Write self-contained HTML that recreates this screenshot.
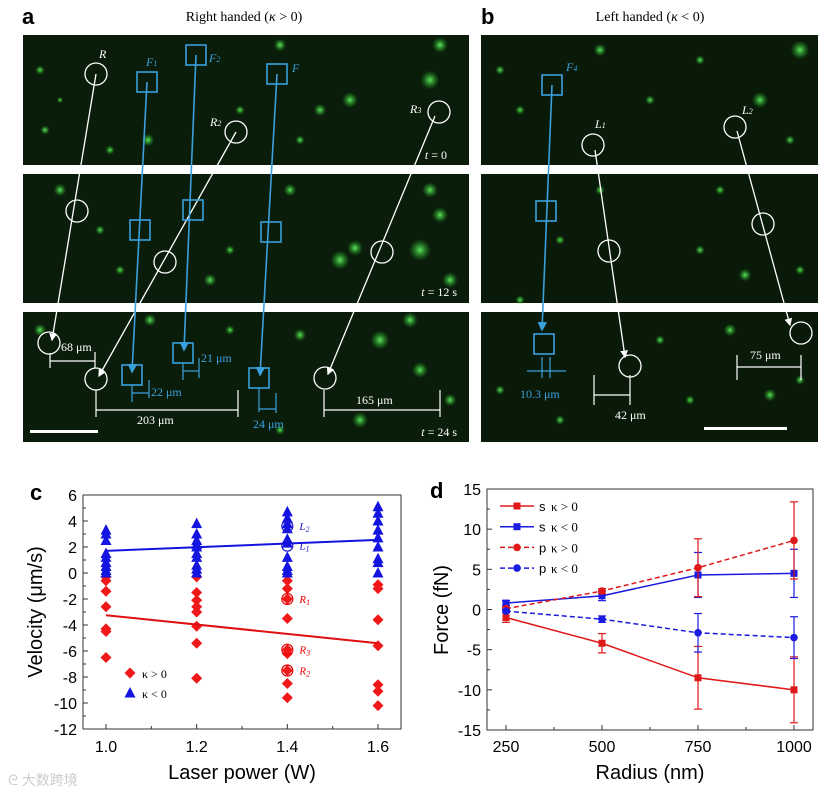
<!DOCTYPE html>
<html><head><meta charset="utf-8"><style>
html,body{margin:0;padding:0;background:#fff;}
svg{display:block;font-family:"Liberation Sans",sans-serif;}
.serif{font-family:"Liberation Serif",serif;}
</style></head><body>
<svg id="fig" width="837" height="794" viewBox="0 0 837 794" xmlns="http://www.w3.org/2000/svg">
<defs>
<radialGradient id="blob"><stop offset="0" stop-color="#6f6" stop-opacity="0.9"/><stop offset="1" stop-color="#2a2" stop-opacity="0"/></radialGradient>
<marker id="aw" markerWidth="6" markerHeight="6" refX="5" refY="3" orient="auto"><path d="M0,0L6,3L0,6z" fill="#fff"/></marker>
<marker id="ab" markerWidth="6" markerHeight="6" refX="5" refY="3" orient="auto"><path d="M0,0L6,3L0,6z" fill="#3aa0dd"/></marker>
</defs>
<text x="22" y="24" font-size="22" font-weight="bold">a</text>
<text x="481" y="24" font-size="22" font-weight="bold">b</text>
<text x="244" y="21" font-size="14" text-anchor="middle" class="serif">Right handed (<tspan font-style="italic">κ</tspan> &gt; 0)</text>
<text x="650" y="21" font-size="14" text-anchor="middle" class="serif">Left handed (<tspan font-style="italic">κ</tspan> &lt; 0)</text>

<g id="micro">
<rect x="23" y="35" width="446" height="130" fill="#0a1c0a"/>
<rect x="23" y="174" width="446" height="129" fill="#0a1c0a"/>
<rect x="23" y="312" width="446" height="130" fill="#0a1c0a"/>
<rect x="481" y="35" width="337" height="130" fill="#091a09"/>
<rect x="481" y="174" width="337" height="129" fill="#091a09"/>
<rect x="481" y="312" width="337" height="130" fill="#091a09"/>
<g id="blobs"></g>
<g fill="none" stroke="#fff" stroke-width="1.3">
<circle cx="96" cy="74" r="11"/><circle cx="77" cy="211" r="11"/><circle cx="49" cy="343" r="11"/>
<circle cx="236" cy="132" r="11"/><circle cx="165" cy="262" r="11"/><circle cx="96" cy="379" r="11"/>
<circle cx="439" cy="112" r="11"/><circle cx="382" cy="252" r="11"/><circle cx="325" cy="378" r="11"/>
<line x1="96" y1="74" x2="52" y2="340" marker-end="url(#aw)"/>
<line x1="236" y1="132" x2="99" y2="376" marker-end="url(#aw)"/>
<line x1="435" y1="116" x2="328" y2="374" marker-end="url(#aw)"/>
</g>
<g fill="none" stroke="#3aa0dd" stroke-width="1.6">
<rect x="137" y="72" width="20" height="20"/><rect x="130" y="220" width="20" height="20"/><rect x="122" y="365" width="20" height="20"/>
<rect x="186" y="45" width="20" height="20"/><rect x="183" y="200" width="20" height="20"/><rect x="173" y="343" width="20" height="20"/>
<rect x="267" y="64" width="20" height="20"/><rect x="261" y="222" width="20" height="20"/><rect x="249" y="368" width="20" height="20"/>
<line x1="147" y1="82" x2="132" y2="372" marker-end="url(#ab)"/>
<line x1="196" y1="55" x2="184" y2="350" marker-end="url(#ab)"/>
<line x1="277" y1="74" x2="260" y2="375" marker-end="url(#ab)"/>
<rect x="542" y="75" width="20" height="20"/><rect x="536" y="201" width="20" height="20"/><rect x="534" y="334" width="20" height="20"/>
<line x1="552" y1="85" x2="542" y2="330" marker-end="url(#ab)"/>
</g>
<g fill="none" stroke="#fff" stroke-width="1.3">
<circle cx="593" cy="145" r="11"/><circle cx="609" cy="251" r="11"/><circle cx="630" cy="366" r="11"/>
<circle cx="735" cy="127" r="11"/><circle cx="763" cy="224" r="11"/><circle cx="801" cy="333" r="11"/>
<line x1="595" y1="150" x2="625" y2="357" marker-end="url(#aw)"/>
<line x1="737" y1="131" x2="790" y2="325" marker-end="url(#aw)"/>
</g>
<g stroke="#fff" stroke-width="1.2">
<line x1="50" y1="353" x2="50" y2="368"/><line x1="95" y1="352" x2="95" y2="368"/><line x1="50" y1="361" x2="95" y2="361"/>
<line x1="96" y1="390" x2="96" y2="417"/><line x1="238" y1="390" x2="238" y2="417"/><line x1="96" y1="410" x2="238" y2="410"/>
<line x1="324" y1="390" x2="324" y2="417"/><line x1="440" y1="390" x2="440" y2="417"/><line x1="324" y1="410" x2="440" y2="410"/>
<line x1="594" y1="375" x2="594" y2="405"/><line x1="630" y1="375" x2="630" y2="405"/><line x1="594" y1="395" x2="630" y2="395"/>
<line x1="737" y1="355" x2="737" y2="380"/><line x1="801" y1="355" x2="801" y2="380"/><line x1="737" y1="367" x2="801" y2="367"/>
</g>
<g stroke="#3aa0dd" stroke-width="1.2">
<line x1="132" y1="385" x2="132" y2="402"/><line x1="149" y1="380" x2="149" y2="398"/><line x1="132" y1="393" x2="149" y2="393"/>
<line x1="183" y1="363" x2="183" y2="380"/><line x1="199" y1="358" x2="199" y2="378"/><line x1="183" y1="371" x2="199" y2="371"/>
<line x1="259" y1="388" x2="259" y2="412"/><line x1="276" y1="393" x2="276" y2="413"/><line x1="259" y1="409" x2="276" y2="409"/>
<line x1="542" y1="357" x2="542" y2="378"/><line x1="550" y1="357" x2="550" y2="378"/><line x1="527" y1="371" x2="566" y2="371"/>
</g>
<rect x="30" y="430" width="68" height="3" fill="#fff"/>
<rect x="704" y="427" width="83" height="3" fill="#fff"/>
<g class="serif" font-size="12" fill="#fff">
<text x="99" y="58" font-style="italic">R</text><text x="210" y="126" font-style="italic">R<tspan font-size="8">2</tspan></text><text x="410" y="113" font-style="italic">R<tspan font-size="8">3</tspan></text>
<text x="447" y="159" text-anchor="end"><tspan font-style="italic">t</tspan> = 0</text>
<text x="457" y="296" text-anchor="end"><tspan font-style="italic">t</tspan> = 12 s</text>
<text x="457" y="436" text-anchor="end"><tspan font-style="italic">t</tspan> = 24 s</text>
<text x="61" y="351">68 μm</text><text x="137" y="424">203 μm</text><text x="356" y="404">165 μm</text>
<text x="595" y="128" font-style="italic">L<tspan font-size="8">1</tspan></text><text x="742" y="114" font-style="italic">L<tspan font-size="8">2</tspan></text>
<text x="615" y="419">42 μm</text><text x="750" y="359">75 μm</text>
</g>
<g class="serif" font-size="12" fill="#3aa0dd">
<text x="146" y="66" font-style="italic">F<tspan font-size="8">1</tspan></text><text x="209" y="62" font-style="italic">F<tspan font-size="8">2</tspan></text><text x="292" y="72" font-style="italic">F</text>
<text x="151" y="396">22 μm</text><text x="201" y="362">21 μm</text><text x="253" y="428">24 μm</text>
<text x="566" y="71" font-style="italic">F<tspan font-size="8">4</tspan></text><text x="520" y="398">10.3 μm</text>
</g>
</g>

<g id="chartC"></g>
<g id="chartD"></g>
<text x="8" y="785" font-size="14" fill="#ccc" font-family="'Liberation Sans','Noto Sans CJK SC',sans-serif">ᘓ 大数跨境</text>
</svg>
<script>
const NS='http://www.w3.org/2000/svg';
function mk(p,tag,attrs,txt){const e=document.createElementNS(NS,tag);for(const k in attrs)e.setAttribute(k,attrs[k]);if(txt!==undefined)e.textContent=txt;p.appendChild(e);return e;}

const blobG=document.getElementById('blobs');
const blobPts=[[40,70,3],[60,100,2],[148,140,4],[240,110,3],[350,100,5],[430,80,6],[300,140,3],[60,190,4],[120,270,3],[210,280,4],[340,260,6],[355,248,5],[420,250,7],[440,215,5],[450,280,5],[150,320,4],[300,335,4],[380,340,6],[420,370,5],[360,420,5],[500,70,3],[600,50,4],[760,100,5],[800,50,6],[700,250,3],[745,275,4],[520,300,3],[660,340,3],[770,395,4],[560,240,3],[800,380,3],[45,130,3],[110,150,3],[280,45,4],[320,110,4],[440,45,5],[100,230,3],[230,250,3],[290,190,4],[430,190,5],[40,330,4],[230,330,3],[280,430,3],[410,320,5],[450,400,4],[520,110,3],[650,100,3],[700,60,3],[790,140,3],[600,190,3],[720,190,3],[800,270,3],[500,390,3],[690,400,3],[560,420,3],[730,330,4]];
for(const b of blobPts){mk(blobG,'circle',{cx:b[0],cy:b[1],r:b[2]*1.6,fill:'url(#blob)'});}

// ===== Chart C data =====
const cPowers=[1.0,1.2,1.4,1.6];
const cBlue=[[3.3,3.0,2.5,1.5,1.2,0.8,0.5,0.2,0.0],[3.8,3.0,2.5,2.2,2.0,1.5,1.2,0.6,0.3,0.0],[4.7,4.2,3.8,3.4,2.6,2.3,1.2,0.5,0.2,0.0],[5.1,4.6,4.0,3.3,2.7,2.0,1.1,0.8,0.0]];
const cRed=[[-0.3,-0.6,-1.4,-2.6,-4.3,-4.5,-6.5],[-0.3,-1.5,-2.1,-2.6,-3.0,-4.1,-5.4,-8.1],[-0.6,-1.2,-2.0,-3.5,-5.9,-6.2,-7.5,-8.5,-9.6],[-0.9,-1.2,-3.6,-5.6,-8.6,-9.1,-10.2]];
const cBlueFit=[1.7,2.55];
const cRedFit=[-3.25,-5.4];
const cCircled=[[1.4,3.6,'L2','#1a1ad0'],[1.4,2.1,'L1','#1a1ad0'],[1.4,-2.0,'R1','#e00'],[1.4,-5.9,'R3','#e00'],[1.4,-7.5,'R2','#e00']];
const cXTicks=[1.0,1.2,1.4,1.6];
const cYTicks=[6,4,2,0,-2,-4,-6,-8,-10,-12];

const cx0=83,cx1=401,cy0=495,cy1=729;
const cxS=v=>106+(v-1.0)*(378-106)/0.6;
const cyS=v=>cy0+(6-v)*(cy1-cy0)/18;
const C=document.getElementById('chartC');
mk(C,'text',{x:30,y:500,'font-size':22,'font-weight':'bold',},'c');
mk(C,'rect',{x:cx0,y:cy0,width:cx1-cx0,height:cy1-cy0,fill:'none',stroke:'#333','stroke-width':1});
for(let v=1.0;v<=1.65;v+=0.1){const x=cxS(v);const big=Math.abs(Math.round(v*10)%2)===0;mk(C,'line',{x1:x,y1:cy1,x2:x,y2:cy1-(big?5:3),stroke:'#333'});}
for(let v=-12;v<=6;v++){const y=cyS(v);mk(C,'line',{x1:cx0,y1:y,x2:cx0+(v%2===0?5:3),y2:y,stroke:'#333'});}
for(const t of cXTicks){const e=mk(C,'text',{x:cxS(t),y:752,'font-size':16,'text-anchor':'middle'},t.toFixed(1));}
for(const t of cYTicks){const e=mk(C,'text',{x:77,y:cyS(t)+6,'font-size':16,'text-anchor':'end'},String(t));}
let e=mk(C,'text',{x:242,y:779,'font-size':20,'text-anchor':'middle'},'Laser power (W)');

e=mk(C,'text',{x:0,y:0,'font-size':20,'text-anchor':'middle',transform:'translate(42,612) rotate(-90)'},'Velocity (μm/s)');

function diamond(p,x,y){return mk(p,'path',{d:`M${x},${y-5.5}L${x+5.5},${y}L${x},${y+5.5}L${x-5.5},${y}Z`,fill:'#f01818'});}
function tri(p,x,y){return mk(p,'path',{d:`M${x},${y-6}L${x+5.5},${y+4.5}L${x-5.5},${y+4.5}Z`,fill:'#1414e0'});}
cPowers.forEach((p,i)=>{
 cRed[i].forEach(v=>{const d=diamond(C,cxS(p),cyS(v));});
 cBlue[i].forEach(v=>{const d=tri(C,cxS(p),cyS(v));});
});
e=mk(C,'line',{x1:cxS(1.0),y1:cyS(cBlueFit[0]),x2:cxS(1.6),y2:cyS(cBlueFit[1]),stroke:'#1414e0','stroke-width':2});

e=mk(C,'line',{x1:cxS(1.0),y1:cyS(cRedFit[0]),x2:cxS(1.6),y2:cyS(cRedFit[1]),stroke:'#e01010','stroke-width':2});

cCircled.forEach(c=>{mk(C,'circle',{cx:cxS(c[0]),cy:cyS(c[1]),r:5.5,fill:'none',stroke:c[3],'stroke-width':1.2});
 const t=mk(C,'text',{x:cxS(c[0])+12,y:cyS(c[1])+4,'font-size':11,'font-style':'italic',fill:c[3],class:'serif'},c[2][0]);
 mk(t,'tspan',{'font-size':8,dy:2},c[2][1]);
 });
diamond(C,130,673);e=mk(C,'text',{x:142,y:678,'font-size':12,class:'serif'},'κ > 0');
tri(C,130,693);e=mk(C,'text',{x:142,y:698,'font-size':12,class:'serif'},'κ < 0');

// ===== Chart D data =====
const dRadius=[250,500,750,1000];
const dSPos=[-1.0,-4.2,-8.5,-10.0];
const dSPosErr=[0.6,1.2,3.9,4.1];
const dSNeg=[0.8,1.7,4.3,4.5];
const dSNegErr=[0.3,0.6,2.8,3.0];
const dPPos=[0.1,2.3,5.2,8.6];
const dPPosErr=[0.2,0.3,3.6,4.8];
const dPNeg=[-0.2,-1.2,-2.9,-3.5];
const dPNegErr=[0.2,0.4,2.4,2.6];
const dYTicks=[15,10,5,0,-5,-10,-15];
const dXTicks=[250,500,750,1000];

const dx0=487,dx1=813,dy0=489,dy1=730;
const dxS=v=>506+(v-250)*(794-506)/750;
const dyS=v=>dy0+(15-v)*(dy1-dy0)/30;
const D=document.getElementById('chartD');
mk(D,'text',{x:430,y:498,'font-size':22,'font-weight':'bold',},'d');
mk(D,'rect',{x:dx0,y:dy0,width:dx1-dx0,height:dy1-dy0,fill:'none',stroke:'#333'});
for(let v=250;v<=1000;v+=125){const x=dxS(v);mk(D,'line',{x1:x,y1:dy1,x2:x,y2:dy1-(v%250===0?5:3),stroke:'#333'});}
for(let v=-15;v<=15;v+=2.5){const y=dyS(v);mk(D,'line',{x1:dx0,y1:y,x2:dx0+(v%5===0?5:3),y2:y,stroke:'#333'});}
for(const t of dXTicks){e=mk(D,'text',{x:dxS(t),y:752,'font-size':16,'text-anchor':'middle'},String(t));}
for(const t of dYTicks){e=mk(D,'text',{x:481,y:dyS(t)+6,'font-size':16,'text-anchor':'end'},String(t));}
e=mk(D,'text',{x:650,y:779,'font-size':20,'text-anchor':'middle'},'Radius (nm)');

e=mk(D,'text',{x:0,y:0,'font-size':20,'text-anchor':'middle',transform:'translate(448,610) rotate(-90)'},'Force (fN)');

const dSeries=[[dSPos,dSPosErr,'#e01818',false,'sq','s-kappa-pos'],[dSNeg,dSNegErr,'#1a1ae0',false,'sq','s-kappa-neg'],[dPPos,dPPosErr,'#e01818',true,'ci','p-kappa-pos'],[dPNeg,dPNegErr,'#1a1ae0',true,'ci','p-kappa-neg']];
dSeries.forEach(s=>{
 const [vals,errs,col,dash,shape,name]=s;
 const pts=vals.map((v,i)=>dxS(dRadius[i])+','+dyS(v)).join(' ');
 const l=mk(D,'polyline',{points:pts,fill:'none',stroke:col,'stroke-width':1.5,'stroke-dasharray':dash?'5,3':'none'});
 
 vals.forEach((v,i)=>{const x=dxS(dRadius[i]);
  const g=mk(D,'g',{stroke:col,'stroke-width':1.2});
  
  mk(g,'line',{x1:x,y1:dyS(v-errs[i]),x2:x,y2:dyS(v+errs[i])});
  mk(g,'line',{x1:x-4,y1:dyS(v-errs[i]),x2:x+4,y2:dyS(v-errs[i])});
  mk(g,'line',{x1:x-4,y1:dyS(v+errs[i]),x2:x+4,y2:dyS(v+errs[i])});
  const m=shape==='sq'?mk(D,'rect',{x:x-3.5,y:dyS(v)-3.5,width:7,height:7,fill:col}):mk(D,'circle',{cx:x,cy:dyS(v),r:3.8,fill:col});
  
 });
});
const dLegend=[['s','κ > 0','#e01818',false,'sq'],['s','κ < 0','#1a1ae0',false,'sq'],['p','κ > 0','#e01818',true,'ci'],['p','κ < 0','#1a1ae0',true,'ci']];
dLegend.forEach((L,i)=>{const y=506+i*20.7;
 const g=mk(D,'g',{});
 mk(g,'line',{x1:500,y1:y,x2:534,y2:y,stroke:L[2],'stroke-width':1.5,'stroke-dasharray':L[3]?'5,3':'none'});
 if(L[4]==='sq')mk(g,'rect',{x:513.5,y:y-3.5,width:7,height:7,fill:L[2]});else mk(g,'circle',{cx:517,cy:y,r:3.8,fill:L[2]});
 mk(g,'text',{x:539,y:y+5,'font-size':13},L[0]);
 mk(g,'text',{x:551,y:y+5,'font-size':13,class:'serif'},L[1]);
});
</script>
</body></html>
